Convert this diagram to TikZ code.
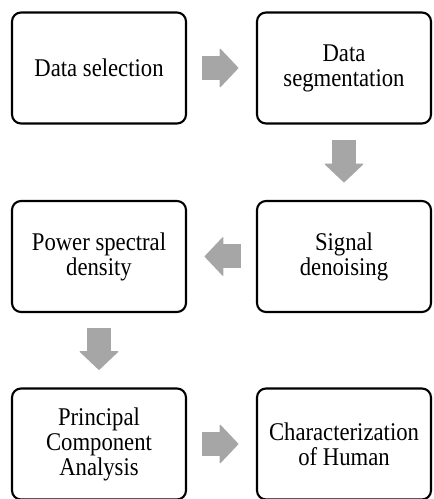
\documentclass[tikz,border=0pt]{standalone}
\usepackage{fontspec}
\setmainfont{Liberation Serif}[FakeStretch=0.89]
\usetikzlibrary{arrows.meta}

\definecolor{arrowgray}{HTML}{A6A6A6}

\tikzset{
  box/.style={draw, line width=2.1pt, rounded corners=9pt,
    minimum width=174pt, minimum height=111pt, align=center,
    font=\fontsize{25.5}{25}\selectfont},
  flow/.style={draw=arrowgray, line width=24pt,
    -{Triangle[length=19pt, width=40pt, line width=1pt, round]},
    shorten <=15pt, shorten >=17.5pt}
}

\begin{document}
\begin{tikzpicture}[x=1pt, y=1pt]
        \clip (0, 0) rectangle (434, 499);

        \node[box] at (99, 431)(sel){Data selection};
        \node[box] at (344, 431)(seg){Data\\segmentation};
        \node[box] at (344, 242.5)(den){Signal\\denoising};
        \node[box] at (99, 242.5)(psd){Power spectral\\density};
        \node[box] at (99, 55)(pca){Principal\\Component\\Analysis};
        \node[box] at (344, 55)(hum){Characterization\\of Human};

        \path
        (sel)edge[flow](seg)
        (seg)edge[flow](den)
        (den)edge[flow](psd)
        (psd)edge[flow](pca)
        (pca)edge[flow](hum)
        ;
    \end{tikzpicture}
\end{document}
